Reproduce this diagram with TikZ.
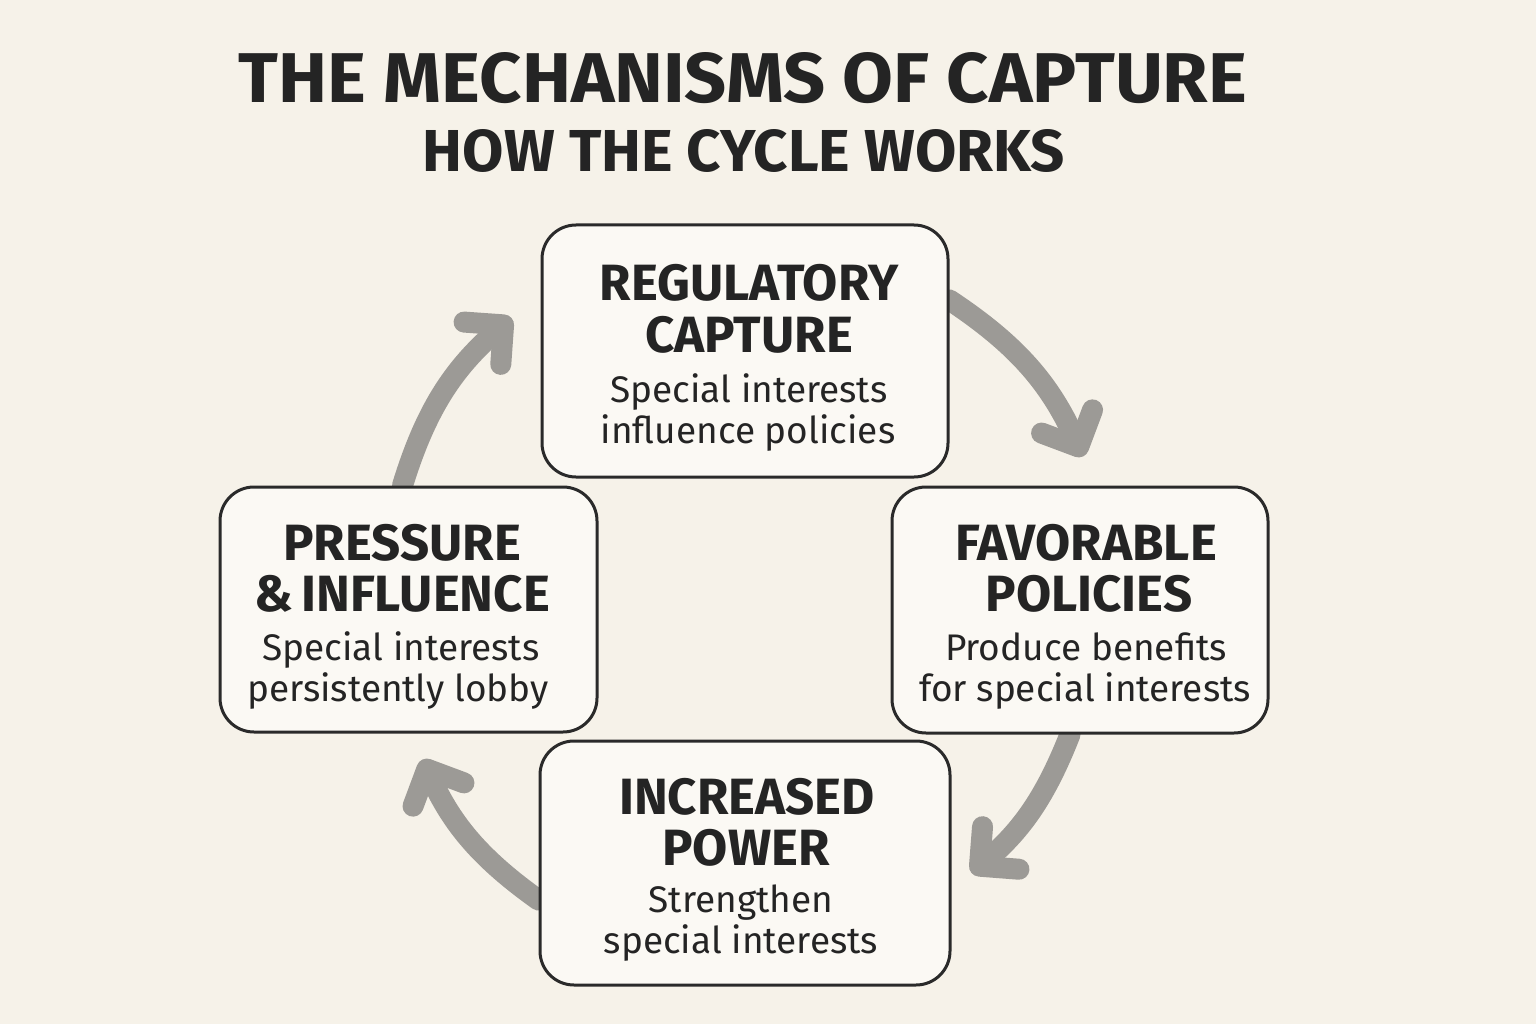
\documentclass[tikz,border=0pt]{standalone}
\usepackage{fontspec}
\setmainfont{Fira Sans}
\usepackage{graphicx}
\usetikzlibrary{arrows.meta,calc}
\definecolor{bgcol}{HTML}{F6F2E9}
\definecolor{boxfill}{HTML}{FBF9F4}
\definecolor{ink}{HTML}{242424}
\definecolor{boxline}{HTML}{2A2A2A}
\definecolor{arrowgray}{HTML}{9C9A96}
\pgfdeclarelayer{backlayer}
\pgfsetlayers{backlayer,main}
\tikzset{
  cardbox/.style={draw=boxline, line width=3pt, rounded corners=34pt, fill=boxfill, inner sep=0pt},
  headline/.style={anchor=base, inner sep=0pt, text=ink, font=\fontsize{51}{60}\selectfont\bfseries},
  bodyline/.style={anchor=base, inner sep=0pt, text=ink, font=\fontsize{37}{44}\selectfont},
  cyc/.style={draw=arrowgray, line width=21pt, line cap=round,
    -{Straight Barb[length=28pt,width=56pt,round]}},
}
\begin{document}
\begin{tikzpicture}[x=1pt,y=-1pt]
\useasboundingbox (0,0) rectangle (1536,1024);
\begin{pgfonlayer}{backlayer}
\fill[bgcol] (0,0) rectangle (1536,1024);
\end{pgfonlayer}

% titles
\node[anchor=base, inner sep=0pt, text=ink] (title) at (743,103)
  {\resizebox{1008pt}{50pt}{\bfseries THE MECHANISMS OF CAPTURE}};
\node[anchor=base, inner sep=0pt, text=ink] (subtitle) at (744,172)
  {\resizebox{642pt}{42pt}{\bfseries HOW THE CYCLE WORKS}};

% boxes
\node[cardbox, minimum width=406pt, minimum height=252pt] (reg) at (745,351) {};
\node[cardbox, minimum width=377pt, minimum height=245pt] (pre) at (408.5,609.5) {};
\node[cardbox, minimum width=376pt, minimum height=246pt] (fav) at (1080,610) {};
\node[cardbox, minimum width=410pt, minimum height=244pt] (pow) at (745,863) {};

% texts
\node[headline] (reg1) at (749,300) {REGULATORY};
\node[headline] (reg2) at (749,352) {CAPTURE};
\node[bodyline] (reg3) at (749,402) {Special interests};
\node[bodyline] (reg4) at (748,443) {influence policies};

\node[headline] (pre1) at (402,560) {PRESSURE};
\node[headline] (pre2) at (402,611) {\&\,INFLUENCE};
\node[bodyline] (pre3) at (401,660) {Special interests};
\node[bodyline] (pre4) at (398,701) {persistently lobby};

\node[headline] (fav1) at (1086,560) {FAVORABLE};
\node[headline] (fav2) at (1089,611) {POLICIES};
\node[bodyline] (fav3) at (1086,660) {Produce benefits};
\node[bodyline] (fav4) at (1085,701) {for special interests};

\node[headline] (pow1) at (747,814) {INCREASED};
\node[headline] (pow2) at (746,865) {POWER};
\node[bodyline] (pow3) at (741,912) {Strengthen};
\node[bodyline] (pow4) at (741,953) {special interests};

% cycle arrows
\begin{pgfonlayer}{backlayer}
\draw[cyc] ($(reg.east)+(0,-51)$) to[bend left=16] ($(fav.north)+(3,-29)$);
\draw[cyc] ($(fav.south)+(-10,0)$) to[bend left=14] ($(pow.east)+(20,10)$);
\draw[cyc] ($(pow.west)+(0,37)$) to[bend left=15] ($(pre.south)+(14,26)$);
\draw[cyc] ($(pre.north)+(-6,0)$) to[bend left=16] ($(reg.west)+(-29,-33)$);
\end{pgfonlayer}
\end{tikzpicture}
\end{document}
